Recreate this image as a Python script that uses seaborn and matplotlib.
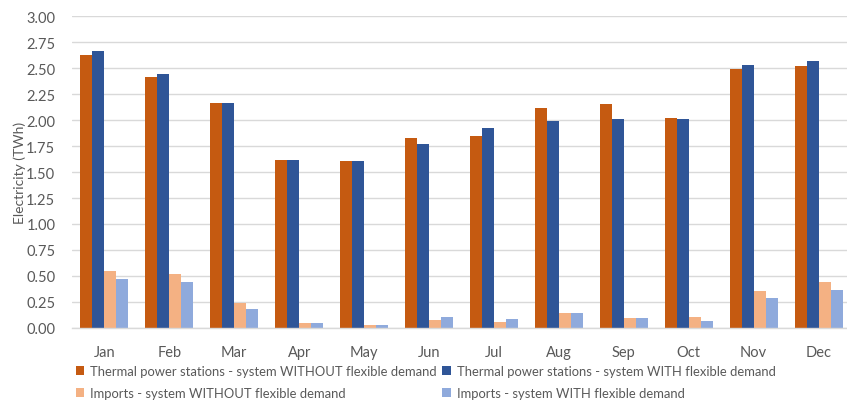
import matplotlib
matplotlib.use("Agg")
import matplotlib.pyplot as plt
from matplotlib import font_manager
from matplotlib.patches import Patch
import seaborn as sns
import pandas as pd

months = ["Jan", "Feb", "Mar", "Apr", "May", "Jun", "Jul", "Aug", "Sep", "Oct", "Nov", "Dec"]
thermal_without = [2.625, 2.41, 2.16, 1.62, 1.61, 1.83, 1.85, 2.115, 2.15, 2.015, 2.49, 2.52]
thermal_with = [2.66, 2.445, 2.16, 1.62, 1.61, 1.77, 1.92, 1.99, 2.01, 2.01, 2.53, 2.565]
imports_without = [0.55, 0.52, 0.24, 0.05, 0.03, 0.08, 0.055, 0.14, 0.10, 0.11, 0.36, 0.445]
imports_with = [0.47, 0.44, 0.18, 0.05, 0.03, 0.11, 0.09, 0.145, 0.10, 0.07, 0.29, 0.365]

series_names = [
    "Thermal power stations - system WITHOUT flexible demand",
    "Thermal power stations - system WITH flexible demand",
    "Imports - system WITHOUT flexible demand",
    "Imports - system WITH flexible demand",
]
series_values = [thermal_without, thermal_with, imports_without, imports_with]
colors = ["#C55A11", "#2F5597", "#F4B183", "#8FAADC"]
yticks = [0.0, 0.25, 0.5, 0.75, 1.0, 1.25, 1.5, 1.75, 2.0, 2.25, 2.5, 2.75, 3.0]

rows = []
for name, vals in zip(series_names, series_values):
    for m, v in zip(months, vals):
        rows.append({"Month": m, "Series": name, "Value": v})
df = pd.DataFrame(rows)

sns.set_theme(style="white")
available = {f.name for f in font_manager.fontManager.ttflist}
family = [f for f in ["Lato", "Open Sans", "DejaVu Sans"] if f in available]
plt.rcParams["font.family"] = family
text_color = "#595959"

fig = plt.figure(figsize=(8.47, 4.02), dpi=100)
ax = fig.add_axes([0.085, 0.1816, 0.9197, 0.7761])

sns.barplot(data=df, x="Month", y="Value", hue="Series", order=months,
            hue_order=series_names, palette=colors, width=0.74, gap=0,
            saturation=1, ax=ax, legend=False, linewidth=0)

ax.set_ylim(0, 3.0)
ax.set_xlim(-0.5, len(months) - 0.5)
ax.set_yticks(yticks)
ax.set_yticklabels([f"{t:.2f}" for t in yticks])
ax.yaxis.grid(True, color="#D9D9D9", linewidth=1)
ax.set_axisbelow(True)
for s in ["top", "right", "left"]:
    ax.spines[s].set_visible(False)
ax.spines["bottom"].set_color("#D9D9D9")
ax.spines["bottom"].set_linewidth(1)
ax.tick_params(axis="both", length=0, colors=text_color, labelsize=10.5)
ax.tick_params(axis="x", pad=12)
ax.tick_params(axis="y", pad=12)
ax.set_xlabel("")
ax.set_ylabel("Electricity (TWh)", color=text_color, fontsize=10)
ax.yaxis.set_label_coords(-0.059, 0.5)

# legend filled column by column: thermal pair on the first row, imports on the second
order = [0, 2, 1, 3]
handles = [Patch(facecolor=colors[i], edgecolor="none") for i in order]
labels = [series_names[i] for i in order]
fig.legend(handles, labels, ncol=2, loc="upper left",
           bbox_to_anchor=(0.082, 0.105), frameon=False, fontsize=9.4,
           labelcolor=text_color, handlelength=0.65, handleheight=0.65,
           handletextpad=0.45, columnspacing=0.4, borderpad=0, labelspacing=0.75)

fig.savefig("out.png", dpi=100)
